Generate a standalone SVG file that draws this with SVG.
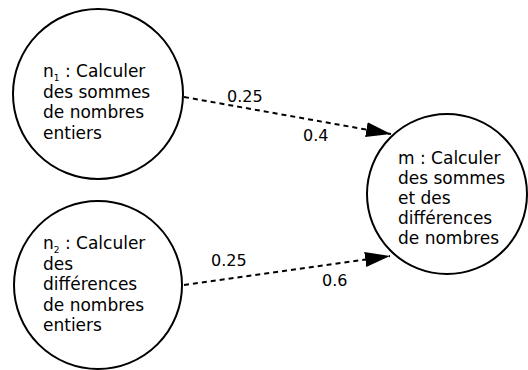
<svg xmlns="http://www.w3.org/2000/svg" width="528" height="370" viewBox="0 0 528 370">
<style>
.node{fill:#fff;stroke:#000;stroke-width:2}
.t{font-family:"DejaVu Sans",sans-serif;font-size:17px;fill:#000}
.lbl{font-family:"DejaVu Sans",sans-serif;font-size:16px;fill:#000}
.sub{font-size:9px}
.edge{stroke:#000;stroke-width:2;stroke-dasharray:5,4;fill:none}
</style>
<defs>
<marker id="arr" markerUnits="userSpaceOnUse" markerWidth="26" markerHeight="16" refX="25" refY="8" orient="auto">
<path d="M0,0.5 L25,8 L0,15.5 z" fill="#000"/>
</marker>
</defs>
<g id="n1">
<circle class="node" cx="98" cy="94" r="85"/>
<text class="t" x="43" y="77">n<tspan class="sub" dy="4">1</tspan><tspan dy="-4"> : Calculer</tspan></text>
<text class="t" x="43" y="97.5">des sommes</text>
<text class="t" x="43" y="118">de nombres</text>
<text class="t" x="43" y="138.5">entiers</text>
</g>
<g id="n2">
<circle class="node" cx="98" cy="285" r="84"/>
<text class="t" x="43" y="249">n<tspan class="sub" dy="4">2</tspan><tspan dy="-4"> : Calculer</tspan></text>
<text class="t" x="43" y="269.5">des</text>
<text class="t" x="43" y="290">différences</text>
<text class="t" x="43" y="310.5">de nombres</text>
<text class="t" x="43" y="331">entiers</text>
</g>
<g id="m">
<circle class="node" cx="447" cy="194" r="80"/>
<text class="t" x="398" y="164">m : Calculer</text>
<text class="t" x="398" y="184">des sommes</text>
<text class="t" x="398" y="204">et des</text>
<text class="t" x="398" y="224">différences</text>
<text class="t" x="398" y="244">de nombres</text>
</g>
<g id="edges">
<line class="edge" x1="184" y1="97" x2="391" y2="134" marker-end="url(#arr)"/>
<text class="lbl" x="227" y="102">0.25</text>
<text class="lbl" x="303" y="141">0.4</text>
<line class="edge" x1="184" y1="285" x2="390" y2="256" marker-end="url(#arr)"/>
<text class="lbl" x="211" y="266">0.25</text>
<text class="lbl" x="322" y="286">0.6</text>
</g>
</svg>
